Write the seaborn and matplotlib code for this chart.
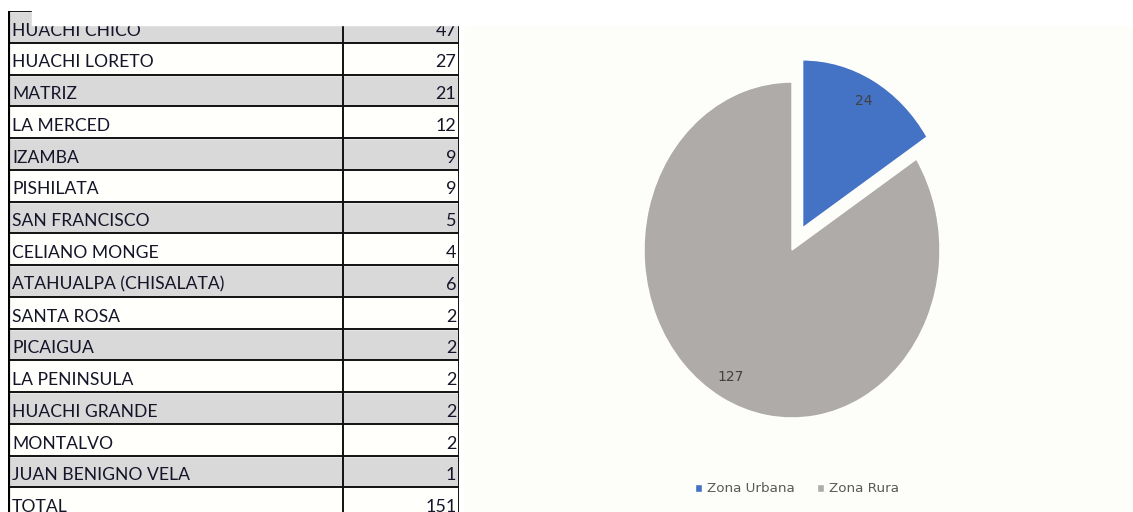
import numpy as np
import pandas as pd
import matplotlib.pyplot as plt
import seaborn as sns
from matplotlib.patches import Rectangle

# table data
parroquias = ["HUACHI CHICO", "HUACHI LORETO", "MATRIZ", "LA MERCED", "IZAMBA",
              "PISHILATA", "SAN FRANCISCO", "CELIANO MONGE", "ATAHUALPA (CHISALATA)",
              "SANTA ROSA", "PICAIGUA", "LA PENINSULA", "HUACHI GRANDE", "MONTALVO",
              "JUAN BENIGNO VELA"]
casos = [47, 27, 21, 12, 9, 9, 5, 4, 6, 2, 2, 2, 2, 2, 1]
total_label = "TOTAL"

# pie data
zonas = ["Zona Urbana", "Zona Rura"]
zona_vals = [24, 127]
zona_colors = ["#4472c4", "#afaba8"]

sns.set_theme(style="white")
plt.rcParams["font.family"] = ["Lato", "DejaVu Sans"]

W, H = 1133, 512
fig = plt.figure(figsize=(W / 100, H / 100), dpi=100)
fig.patch.set_facecolor("white")
fig.add_artist(Rectangle((465 / W, 0), 1 - 465 / W, (H - 25) / H, transform=fig.transFigure,
                         color="#fdfdf9", zorder=0))

# ---- table ----
rows = parroquias + [total_label]
vals = casos + [sum(casos)]
df = pd.DataFrame({"name": rows, "val": vals})
df["shade"] = ["g" if (i % 2 == 0 and i < len(parroquias)) else "w" for i in range(len(df))]
df["one"] = 1.0

row_h = 31.76
top = 11
left, right, div = 8, 459, 343
tab_h = row_h * len(rows)
tab = fig.add_axes([left / W, (H - top - tab_h) / H, (right - left) / W, tab_h / H])
sns.barplot(data=df, x="one", y="name", hue="shade", palette={"g": "#d9d9d9", "w": "#fffffb"},
            width=1.0, dodge=False, legend=False, orient="h", ax=tab, saturation=1)
tab.set_xlim(0, 1)
tab.set_ylim(len(rows) - 0.5, -0.5)
tab.axis("off")
xd = (div - left) / (right - left)
tab.hlines(np.arange(len(rows) + 1) - 0.5, 0, 1, color="#111111", lw=1.4)
tab.vlines([xd, 1], -0.5, len(rows) - 0.5, color="#111111", lw=1.4)
tab.vlines([0], -0.5, len(rows) - 0.5, color="#000000", lw=3)
for i, (n, v) in enumerate(zip(rows, vals)):
    tab.text(0.009, i + 0.12, n, ha="left", va="center", fontsize=12.6, color="#15152a")
    tab.text(0.994, i + 0.12, str(v), ha="right", va="center", fontsize=13, color="#15152a")

# white band covering the top of the table
fig.add_artist(Rectangle((32 / W, (H - 25) / H), 1 - 32 / W, 25 / H, transform=fig.transFigure,
                         color="white", zorder=10))

# ---- pie ----
cx, cy, rx, ry = 792, 250, 148, 168
pax = fig.add_axes([(cx - 1.25 * rx) / W, (H - cy - 1.25 * ry) / H, 2.5 * rx / W, 2.5 * ry / H])
tot = sum(zona_vals)
wedges, _, autotexts = pax.pie(zona_vals, colors=zona_colors, startangle=90, counterclock=False,
                               explode=[0.15, 0], autopct=lambda p: f"{round(p * tot / 100)}",
                               pctdistance=0.86, textprops=dict(fontsize=10, color="#404040",
                                                                family=["DejaVu Sans"]))
pax.set_aspect("auto")
pax.set_xlim(-1.25, 1.25)
pax.set_ylim(-1.25, 1.25)
pax.axis("off")

fig.legend(wedges, zonas, loc="center", bbox_to_anchor=(797 / W, 1 - 489 / H), ncol=2,
           frameon=False, handlelength=0.55, handleheight=0.55, handletextpad=0.4,
           columnspacing=1.6, prop=dict(family="DejaVu Sans", size=9.7), labelcolor="#595959")

fig.savefig("out.png", dpi=100)
